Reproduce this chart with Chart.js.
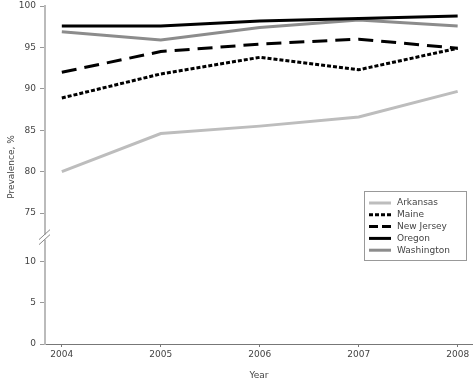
<!DOCTYPE html>
<html>
<head>
<meta charset="utf-8">
<script src="https://cdn.jsdelivr.net/npm/chart.js@4/dist/chart.umd.min.js"></script>
<style>
  html, body { margin: 0; padding: 0; background: #fff; }
  #wrap { position: relative; width: 473px; height: 383px; }
</style>
</head>
<body>
<div id="wrap"><canvas id="c" width="473" height="383"></canvas></div>
<script>
// ---- data ----
const years = [2004, 2005, 2006, 2007, 2008];
const seriesNames = ['Arkansas', 'Maine', 'New Jersey', 'Oregon', 'Washington'];
const arkansas   = [80.0, 84.6, 85.5, 86.6, 89.7];
const maine      = [88.9, 91.8, 93.8, 92.3, 94.9];
const newJersey  = [92.0, 94.5, 95.4, 96.0, 94.9];
const oregon     = [97.6, 97.6, 98.2, 98.5, 98.8];
const washington = [96.9, 95.9, 97.4, 98.3, 97.6];
const yTickLabels = [0, 5, 10, 75, 80, 85, 90, 95, 100];
const xTickLabels = ['2004', '2005', '2006', '2007', '2008'];
const yTitle = 'Prevalence, %';
const xTitle = 'Year';

// ---- broken axis mapping (0-10, then 75-100) ----
const LOW_MAX = 10, HIGH_MIN = 75, HIGH_MAX = 100, GAP = 5.8;
function mapY(v) { return v <= LOW_MAX ? v : v - HIGH_MIN + LOW_MAX + GAP; }
const Y_TOP = mapY(HIGH_MAX);

const styles = [
  { color: '#bdbdbd', dash: [],      legendDash: [] },
  { color: '#000000', dash: [4, 2],  legendDash: [4, 2] },
  { color: '#000000', dash: [15, 8], legendDash: [9, 4] },
  { color: '#000000', dash: [],      legendDash: [] },
  { color: '#8c8c8c', dash: [],      legendDash: [] }
];
const allSeries = [arkansas, maine, newJersey, oregon, washington];

const datasets = allSeries.map((vals, i) => ({
  label: seriesNames[i],
  data: vals.map((v, j) => ({ x: years[j], y: mapY(v) })),
  borderColor: styles[i].color,
  borderDash: styles[i].dash,
  borderWidth: 3,
  borderCapStyle: 'butt',
  pointRadius: 0,
  tension: 0,
  fill: false
}));

const FONT = { family: 'DejaVu Sans', size: 9 };
const TEXT = '#444';

const breakPlugin = {
  id: 'breakMarks',
  afterDraw(chart) {
    const ctx = chart.ctx;
    const y = chart.scales.y;
    const x0 = chart.chartArea.left;
    const yc = (y.getPixelForValue(mapY(LOW_MAX)) + y.getPixelForValue(mapY(HIGH_MIN))) / 2;
    ctx.save();
    ctx.fillStyle = '#fff';
    ctx.fillRect(x0 - 2, yc - 2.5, 4, 5);
    ctx.strokeStyle = '#888';
    ctx.lineWidth = 1;
    [-2.5, 2.5].forEach(off => {
      ctx.beginPath();
      ctx.moveTo(x0 - 6, yc + off + 5);
      ctx.lineTo(x0 + 5, yc + off - 5);
      ctx.stroke();
    });
    // y-axis title, centred like the original (slightly above the plot centre)
    ctx.fillStyle = TEXT;
    ctx.font = FONT.size + 'px "' + FONT.family + '"';
    ctx.textAlign = 'center';
    ctx.textBaseline = 'middle';
    ctx.translate(12, 167);
    ctx.rotate(-Math.PI / 2);
    ctx.fillText(yTitle, 0, 0);
    ctx.restore();
  }
};

const legendPlugin = {
  id: 'customLegend',
  afterDraw(chart) {
    const ctx = chart.ctx;
    const bx = 364.5, by = 191.5, bw = 102, bh = 69;
    ctx.save();
    ctx.strokeStyle = '#999';
    ctx.lineWidth = 1;
    ctx.strokeRect(bx, by, bw, bh);
    ctx.font = FONT.size + 'px "' + FONT.family + '"';
    ctx.textBaseline = 'middle';
    ctx.fillStyle = TEXT;
    chart.data.datasets.forEach((ds, i) => {
      const ry = 203 + i * 11.8;
      ctx.beginPath();
      ctx.strokeStyle = ds.borderColor;
      ctx.lineWidth = 3;
      ctx.setLineDash(styles[i].legendDash);
      ctx.moveTo(369, ry);
      ctx.lineTo(391, ry);
      ctx.stroke();
      ctx.setLineDash([]);
      ctx.fillText(ds.label, 397, ry);
    });
    ctx.restore();
  }
};

new Chart(document.getElementById('c'), {
  type: 'line',
  data: { datasets },
  plugins: [breakPlugin, legendPlugin],
  options: {
    responsive: false,
    animation: false,
    layout: { padding: { top: 6, right: 0, left: 0, bottom: 0 } },
    plugins: { legend: { display: false }, tooltip: { enabled: false } },
    scales: {
      x: {
        type: 'linear',
        min: 2003.83,
        max: 2008.155,
        afterBuildTicks(scale) { scale.ticks = years.map(v => ({ value: v })); },
        afterFit(scale) { scale.height = 39; scale.paddingLeft = 0; scale.paddingRight = 0; },
        ticks: {
          font: FONT, color: TEXT, padding: 2, maxRotation: 0,
          callback: (v) => { const k = years.indexOf(v); return k >= 0 ? xTickLabels[k] : ''; }
        },
        grid: { display: true, drawOnChartArea: false, drawTicks: true, tickLength: 3, color: '#777' },
        border: { display: true, color: '#777', width: 1 },
        title: { display: true, text: xTitle, font: FONT, color: TEXT, padding: { top: 4, bottom: 2 } }
      },
      y: {
        type: 'linear',
        min: 0,
        max: Y_TOP,
        afterBuildTicks(scale) { scale.ticks = yTickLabels.map(v => ({ value: mapY(v) })); },
        afterFit(scale) { scale.width = 45; scale.paddingTop = 0; scale.paddingBottom = 0; },
        ticks: {
          font: FONT, color: TEXT, padding: 4,
          callback: (v) => { const k = yTickLabels.findIndex(t => Math.abs(mapY(t) - v) < 1e-6); return k >= 0 ? String(yTickLabels[k]) : ''; }
        },
        grid: { display: true, drawOnChartArea: false, drawTicks: true, tickLength: 5, color: '#999' },
        border: { display: true, color: '#bbb', width: 2 }
      }
    }
  }
});
</script>
</body>
</html>
